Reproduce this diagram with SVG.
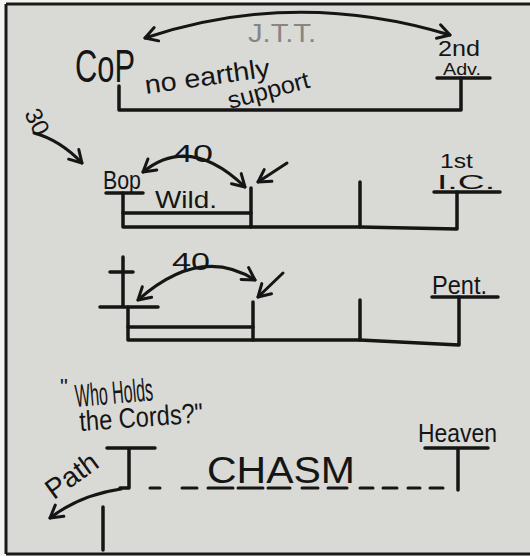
<svg xmlns="http://www.w3.org/2000/svg" width="530" height="556" viewBox="0 0 530 556">
  <style>
    .ln { fill: none; stroke: #151515; stroke-width: 3.5; stroke-linecap: round; stroke-linejoin: round; }
    .ar { fill: none; stroke: #151515; stroke-width: 3; stroke-linecap: round; marker-end: url(#ah); }
    .ar2 { fill: none; stroke: #151515; stroke-width: 3; stroke-linecap: round; marker-start: url(#ah); marker-end: url(#ah); }
    .dash { fill: none; stroke: #151515; stroke-width: 3; stroke-linecap: round; }
    .tx { font-family: "Liberation Sans", "DejaVu Sans", sans-serif; fill: #151515; }
  </style>
  <defs>
    <marker id="ah" viewBox="-15 -10 17 20" refX="0" refY="0" markerWidth="17" markerHeight="20" markerUnits="userSpaceOnUse" orient="auto-start-reverse">
      <path d="M-12,-7 L0,0 L-12,7" fill="none" stroke="#151515" stroke-width="3" stroke-linecap="round" stroke-linejoin="round"/>
    </marker>
  </defs>

  <!-- board -->
  <rect x="0" y="0" width="530" height="556" fill="#f4f4f2"/>
  <rect x="6" y="4" width="524" height="550" fill="#d9dad6"/>
  <path d="M6,4 V554 M6,4 H530 M6,554 H530" fill="none" stroke="#1a1a1a" stroke-width="3"/>

  <!-- top timeline -->
  <g id="cop">
    <text class="tx" x="75" y="82" font-size="46" textLength="60" lengthAdjust="spacingAndGlyphs">CoP</text>
  </g>
  <g id="jtt">
    <text x="248" y="42" font-size="26" textLength="68" lengthAdjust="spacingAndGlyphs" font-family="Liberation Sans, sans-serif" fill="#858585">J.T.T.</text>
  </g>
  <g id="no-earthly-support">
    <text class="tx" x="146" y="94" font-size="26" textLength="126" lengthAdjust="spacingAndGlyphs" transform="rotate(-8 146 94)">no earthly</text>
    <text class="tx" x="230" y="109" font-size="24" textLength="84" lengthAdjust="spacingAndGlyphs" transform="rotate(-15 230 109)">support</text>
  </g>
  <g id="second-advent">
    <text class="tx" x="438" y="56" font-size="22" textLength="42" lengthAdjust="spacingAndGlyphs">2nd</text>
    <text class="tx" x="443" y="75" font-size="17" textLength="38" lengthAdjust="spacingAndGlyphs">Adv.</text>
    <path class="ln" d="M437,78 H490"/>
  </g>
  <g id="top-bracket">
    <path class="ln" d="M119,86 V110 H461 V78"/>
  </g>

  <!-- 30 label -->
  <g id="thirty">
    <text class="tx" x="37" y="130" font-size="24" text-anchor="middle" transform="rotate(65 37 122)">30</text>
  </g>

  <!-- second timeline -->
  <g id="bop">
    <text class="tx" x="103" y="189" font-size="25" textLength="38" lengthAdjust="spacingAndGlyphs">Bop</text>
    <path class="ln" d="M106,193 H143"/>
  </g>
  <g id="forty-1">
    <text class="tx" x="173" y="162" font-size="23" textLength="40" lengthAdjust="spacingAndGlyphs">40</text>
  </g>
  <g id="wild">
    <text class="tx" x="155" y="208" font-size="24" textLength="62" lengthAdjust="spacingAndGlyphs">Wild.</text>
  </g>
  <g id="first-ic">
    <text class="tx" x="440" y="168" font-size="20" textLength="33" lengthAdjust="spacingAndGlyphs">1st</text>
    <text class="tx" x="437" y="189" font-size="21" textLength="58" lengthAdjust="spacingAndGlyphs">I.C.</text>
    <path class="ln" d="M434,192 H500"/>
  </g>
  <g id="timeline-2">
    <path class="ln" d="M123,193 V227 H360 L457,229 V192"/>
    <path class="ln" d="M123,213 H251"/>
    <path class="ln" d="M251,188 V227"/>
    <path class="ln" d="M360,182 V227"/>
  </g>

  <!-- third timeline -->
  <g id="cross">
    <path class="ln" d="M123,257 V306 M110,272 H133 M100,307 H158"/>
  </g>
  <g id="forty-2">
    <text class="tx" x="172" y="270" font-size="23" textLength="38" lengthAdjust="spacingAndGlyphs">40</text>
  </g>
  <g id="pent">
    <text class="tx" x="432" y="294" font-size="26" textLength="55" lengthAdjust="spacingAndGlyphs">Pent.</text>
    <path class="ln" d="M432,297 H498"/>
  </g>
  <g id="timeline-3">
    <path class="ln" d="M128,307 V340 H360 L459,345 V297"/>
    <path class="ln" d="M128,327 H253"/>
    <path class="ln" d="M253,302 V340"/>
    <path class="ln" d="M360,300 V340"/>
  </g>

  <!-- bottom -->
  <g id="who-holds">
    <text class="tx" x="60" y="394" font-size="22">"</text>
    <text class="tx" x="76" y="407" font-size="32" textLength="78" lengthAdjust="spacingAndGlyphs" transform="rotate(-5 76 407)">Who Holds</text>
    <text class="tx" x="80" y="431" font-size="28" textLength="124" lengthAdjust="spacingAndGlyphs" transform="rotate(-4 80 431)">the Cords?"</text>
  </g>
  <g id="path-node">
    <text class="tx" x="72" y="485" font-size="28" text-anchor="middle" textLength="58" lengthAdjust="spacingAndGlyphs" transform="rotate(-36 72 476)">Path</text>
    <path class="ln" d="M107,448 H155 M129,448 V488 H120"/>
    <path class="ln" d="M103,507 V550"/>
  </g>
  <g id="chasm">
    <text class="tx" x="207" y="483" font-size="36" textLength="148" lengthAdjust="spacingAndGlyphs">CHASM</text>
    <path class="dash" d="M150,488 H160 M182,488 H197 M208,488 H233 M238,488 H263 M268,488 H290 M302,488 H318 M328,488 H347 M360,488 H373 M383,488 H397 M408,488 H420 M430,488 H443"/>
  </g>
  <g id="heaven">
    <text class="tx" x="418" y="442" font-size="25" textLength="79" lengthAdjust="spacingAndGlyphs">Heaven</text>
    <path class="ln" d="M425,448 H488 M458,448 V490"/>
  </g>

  <!-- connectors -->
  <g id="connectors">
    <path class="ar2" d="M145,38 Q295,-12 450,35"/>
    <path class="ar" d="M34,133 Q60,140 82,163"/>
    <path class="ar2" d="M143,172 Q190,134 245,187"/>
    <path class="ar" d="M287,163 L258,182"/>
    <path class="ar2" d="M138,300 Q200,245 255,280"/>
    <path class="ar" d="M283,273 L258,297"/>
    <path class="ar" d="M121,489 Q80,495 50,518"/>
  </g>
</svg>
